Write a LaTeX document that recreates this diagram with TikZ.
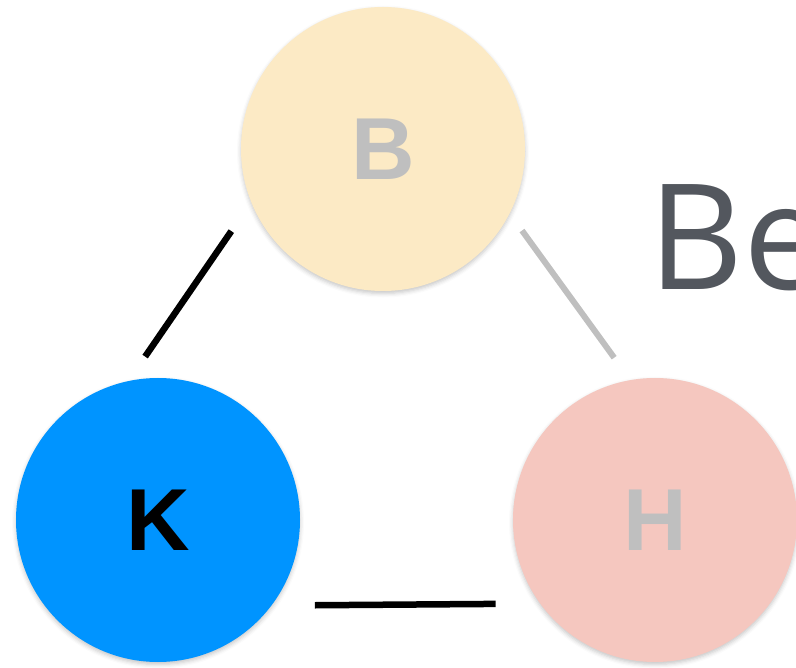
\documentclass[tikz,border=0pt]{standalone}
\usepackage{fontspec}
\usepackage{tikz}
\usetikzlibrary{positioning, shadows.blur}

\newfontfamily\letterfont{Liberation Sans}
\newfontfamily\titlefont{Open Sans}

\definecolor{bfill}{RGB}{252,234,197}
\definecolor{kfill}{RGB}{0,148,255}
\definecolor{hfill}{RGB}{245,199,191}
\definecolor{faded}{RGB}{191,191,191}
\definecolor{slate}{RGB}{83,87,94}

\begin{document}
\begin{tikzpicture}[
    x=1pt, y=-1pt,
    person/.style={circle, minimum size=284pt, inner sep=0pt,
        font=\letterfont\bfseries\fontsize{88}{88}\selectfont,
        blur shadow={shadow xshift=0pt, shadow yshift=-2.5pt,
            shadow blur radius=4pt, shadow opacity=22}},
    link/.style={line width=6.5pt, black},
    weak/.style={line width=6pt, faded}
]
\useasboundingbox (0,0) rectangle (796,668);

% --- the three people ---
\node[person, fill=bfill, text=faded] (B) at (383,149) {B};
\node[person, fill=kfill, text=black] (K) at (158,520) {K};
\node[person, fill=hfill, text=faded] (H) at (655,520) {H};

% --- heading, runs off the page ---
\node[anchor=base west, inner sep=0pt, text=slate,
    font=\titlefont\fontsize{147}{147}\selectfont] (title) at (648,290) {Be};

% --- ties between them ---
\draw[link, shorten <=35pt, shorten >=29.5pt] (B.202.8) -- (K.102.2);
\draw[weak, shorten <=21pt, shorten >=27.5pt] (B.333.3) -- (H.100.6);
\draw[link, shorten <=43.3pt, shorten >=44.3pt] (K.323.2) -- (H.216.8);

\end{tikzpicture}
\end{document}
